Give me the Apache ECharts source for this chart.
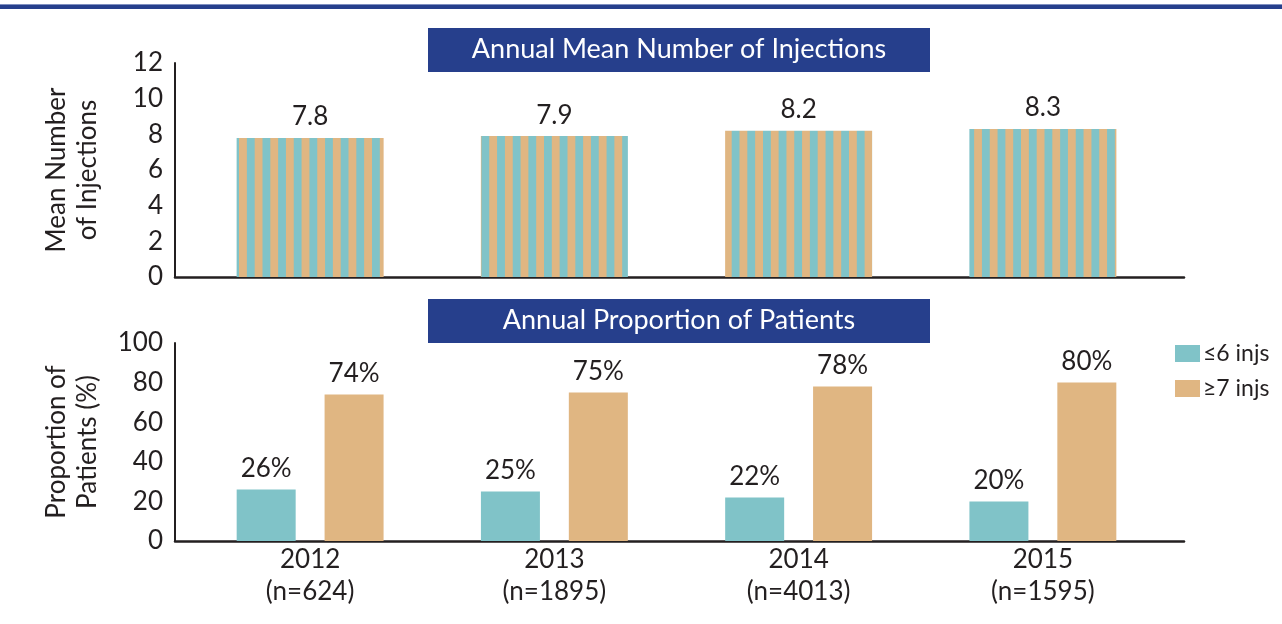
<!DOCTYPE html>
<html>
<head>
<meta charset="utf-8">
<script src="https://cdn.jsdelivr.net/npm/echarts@6/dist/echarts.min.js"></script>
<style>
  html, body { margin: 0; padding: 0; background: #fff; }
  #chart { width: 1282px; height: 624px; }
</style>
</head>
<body>
<div id="chart"></div>
<script>
// data
const years = ['2012\n(n=624)', '2013\n(n=1895)', '2014\n(n=4013)', '2015\n(n=1595)'];
const meanInjections = [7.8, 7.9, 8.2, 8.3];
const lowInj = [26, 25, 22, 20];   // ≤6 injs
const highInj = [74, 75, 78, 80];  // ≥7 injs

const TEAL = '#80c3c8';
const SAND = '#e0b682';
const INK = '#231f20';
const NAVY = '#263f8c';
const FONT = 'Lato, "Noto Sans", sans-serif';
const FS = 26;

// striped fill for the top bars
function stripePattern() {
  const c = document.createElement('canvas');
  c.width = 16; c.height = 8;
  const ctx = c.getContext('2d');
  ctx.fillStyle = TEAL;
  ctx.fillRect(0, 0, 16, 8);
  ctx.fillStyle = SAND;
  ctx.fillRect(0, 0, 8, 8);
  return { image: c, repeat: 'repeat', x: 239, scaleX: 15.64 / 16 };
}

const chart = echarts.init(document.getElementById('chart'));

const axisGrid = { left: 175, right: 98 };
const barGrid = { left: 188, width: 977 };

chart.setOption({
  animation: false,
  textStyle: { fontFamily: FONT },
  grid: [
    { ...axisGrid, top: 63, height: 214 },
    { ...barGrid, top: 63, height: 214 },
    { ...axisGrid, top: 343, height: 198 },
    { ...barGrid, top: 343, height: 198 },
  ],
  legend: {
    data: ['≤6 injs', '≥7 injs'],
    orient: 'vertical',
    left: 1170,
    top: 337,
    padding: 5,
    itemWidth: 25,
    itemHeight: 17,
    itemGap: 12,
    icon: 'rect',
    textStyle: { fontSize: 23, color: INK, fontFamily: FONT, padding: [0, 0, 0, -2] },
  },
  xAxis: [
    { gridIndex: 0, type: 'category', data: years,
      axisLine: { lineStyle: { color: INK, width: 2.5 } },
      axisTick: { show: false }, axisLabel: { show: false } },
    { gridIndex: 1, type: 'category', data: years, show: false },
    { gridIndex: 2, type: 'category', data: years,
      axisLine: { lineStyle: { color: INK, width: 2.5 } },
      axisTick: { show: false }, axisLabel: { show: false } },
    { gridIndex: 3, type: 'category', data: years,
      axisLine: { show: false }, axisTick: { show: false },
      axisLabel: { fontSize: FS, color: INK, lineHeight: 32, margin: 3 } },
  ],
  yAxis: [
    { gridIndex: 0, type: 'value', min: 0, max: 12, interval: 2,
      name: 'Mean Number\nof Injections', nameLocation: 'middle', nameGap: 72,
      nameTextStyle: { fontSize: FS, color: INK, lineHeight: 31 },
      axisLine: { show: true, lineStyle: { color: INK, width: 2 } },
      axisTick: { show: false }, splitLine: { show: false },
      axisLabel: { fontSize: FS, color: INK, margin: 12 } },
    { gridIndex: 1, type: 'value', min: 0, max: 12, interval: 2, show: false, splitLine: { show: false } },
    { gridIndex: 2, type: 'value', min: 0, max: 100, interval: 20,
      name: 'Proportion of\nPatients (%)', nameLocation: 'middle', nameGap: 72,
      nameTextStyle: { fontSize: FS, color: INK, lineHeight: 31 },
      axisLine: { show: true, lineStyle: { color: INK, width: 2 } },
      axisTick: { show: false }, splitLine: { show: false },
      axisLabel: { fontSize: FS, color: INK, margin: 12 } },
    { gridIndex: 3, type: 'value', min: 0, max: 100, interval: 20, show: false, splitLine: { show: false } },
  ],
  series: [
    { type: 'bar', name: 'mean', xAxisIndex: 1, yAxisIndex: 1, data: meanInjections,
      barWidth: 147, itemStyle: { color: stripePattern() },
      label: { show: true, position: 'top', distance: 8, fontSize: FS, color: INK } },
    { type: 'bar', name: '≤6 injs', xAxisIndex: 3, yAxisIndex: 3, data: lowInj,
      barWidth: 59, barGap: '49%', itemStyle: { color: TEAL },
      label: { show: true, position: 'top', distance: 8, fontSize: FS, color: INK, formatter: '{c}%' } },
    { type: 'bar', name: '≥7 injs', xAxisIndex: 3, yAxisIndex: 3, data: highInj,
      barWidth: 59, barGap: '49%', itemStyle: { color: SAND },
      label: { show: true, position: 'top', distance: 8, fontSize: FS, color: INK, formatter: '{c}%' } },
  ],
  graphic: [
    { type: 'rect', shape: { x: 0, y: 4, width: 1282, height: 5 }, style: { fill: NAVY } },
    { type: 'rect', shape: { x: 0, y: 4, width: 1282, height: 1 }, style: { fill: '#7f8fc0' } },
    { type: 'rect', shape: { x: 428, y: 28, width: 502, height: 44 }, style: { fill: NAVY } },
    { type: 'text', x: 679, y: 49,
      style: { text: 'Annual Mean Number of Injections', fill: '#fff', font: '27px ' + FONT,
               textAlign: 'center', textVerticalAlign: 'middle' } },
    { type: 'rect', shape: { x: 428, y: 299, width: 502, height: 44 }, style: { fill: NAVY } },
    { type: 'text', x: 679, y: 320,
      style: { text: 'Annual Proportion of Patients', fill: '#fff', font: '27px ' + FONT,
               textAlign: 'center', textVerticalAlign: 'middle' } },
  ],
});
</script>
</body>
</html>
